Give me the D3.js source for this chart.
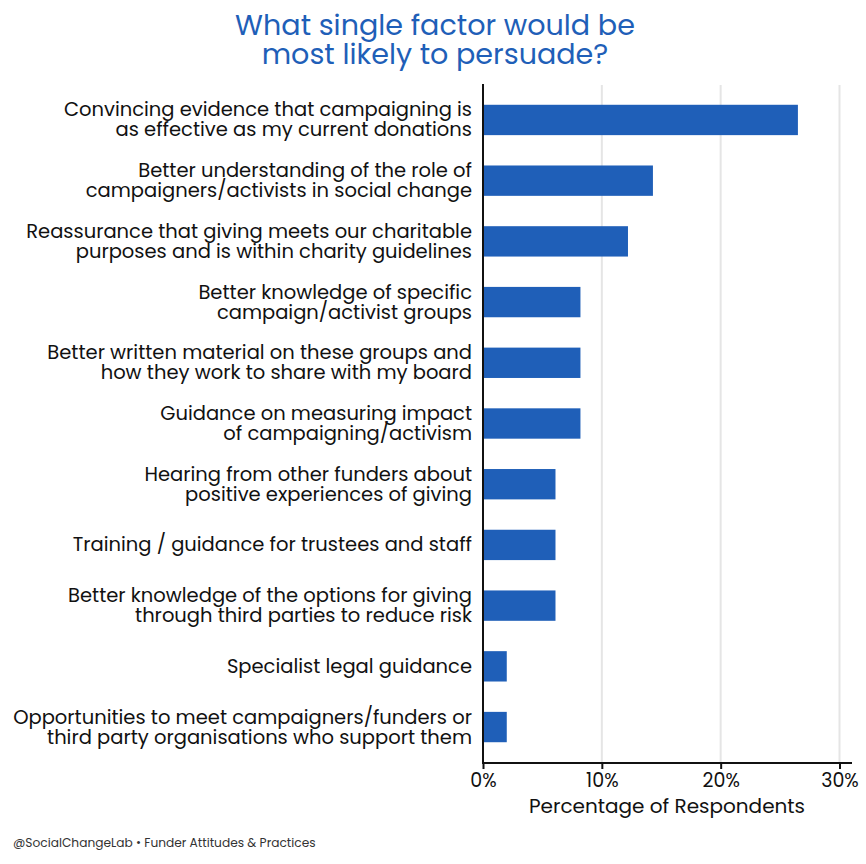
<!DOCTYPE html>
<html>
<head>
<meta charset="utf-8">
<script src="https://cdn.jsdelivr.net/npm/d3@7"></script>
<style>
  body { margin: 0; background: #fff; }
  text { font-family: Poppins, "Open Sans", sans-serif; }
</style>
</head>
<body>
<svg id="chart" width="866" height="864"></svg>
<script>
// factors, top to bottom (two lines each where the label wraps)
const factors = [
  ["Convincing evidence that campaigning is", "as effective as my current donations"],
  ["Better understanding of the role of", "campaigners/activists in social change"],
  ["Reassurance that giving meets our charitable", "purposes and is within charity guidelines"],
  ["Better knowledge of specific", "campaign/activist groups"],
  ["Better written material on these groups and", "how they work to share with my board"],
  ["Guidance on measuring impact", "of campaigning/activism"],
  ["Hearing from other funders about", "positive experiences of giving"],
  ["Training / guidance for trustees and staff"],
  ["Better knowledge of the options for giving", "through third parties to reduce risk"],
  ["Specialist legal guidance"],
  ["Opportunities to meet campaigners/funders or", "third party organisations who support them"]
];
// percentage of respondents
const shares = [26.5, 14.3, 12.2, 8.2, 8.2, 8.2, 6.1, 6.1, 6.1, 2.0, 2.0];
const xTicks = [0, 10, 20, 30];

const blue = "#1f5fb8";
const svg = d3.select("#chart");

const x = d3.scaleLinear().domain([0, 30]).range([483, 839.5]);
const y = d3.scaleBand()
  .domain(d3.range(factors.length))
  .range([89.6, 757.4])
  .paddingInner(0.5)
  .paddingOuter(0.25);

// title
svg.append("text")
  .attr("x", 435).attr("y", 35)
  .attr("text-anchor", "middle")
  .style("font-size", "28.6px")
  .style("fill", blue)
  .selectAll("tspan")
  .data(["What single factor would be", "most likely to persuade?"])
  .join("tspan")
  .attr("x", 435)
  .attr("dy", (d, i) => i ? 29 : 0)
  .text(d => d);

// grid
svg.append("g")
  .selectAll("line")
  .data(xTicks.slice(1))
  .join("line")
  .attr("x1", d => x(d)).attr("x2", d => x(d))
  .attr("y1", 85).attr("y2", 763)
  .attr("stroke", "#e5e5e5")
  .attr("stroke-width", 2);

// bars
svg.append("g")
  .selectAll("rect")
  .data(shares)
  .join("rect")
  .attr("x", x(0))
  .attr("y", (d, i) => y(i))
  .attr("width", d => x(d) - x(0))
  .attr("height", y.bandwidth())
  .attr("fill", blue);

// category labels
const labels = svg.append("g")
  .selectAll("text")
  .data(factors)
  .join("text")
  .attr("text-anchor", "end")
  .style("font-size", "19.5px")
  .style("fill", "#111");

labels.each(function(lines, i) {
  const cy = y(i) + y.bandwidth() / 2;
  const start = cy - (lines.length - 1) * 10 + 6.5;
  d3.select(this).selectAll("tspan")
    .data(lines)
    .join("tspan")
    .attr("x", 472)
    .attr("y", (d, j) => start + j * 20)
    .text(d => d);
});

// x axis
const xAxis = d3.axisBottom(x)
  .tickValues(xTicks)
  .tickFormat(d => d + "%")
  .tickSize(6)
  .tickSizeOuter(0);

const gx = svg.append("g")
  .attr("transform", "translate(0,763)")
  .call(xAxis);
gx.select(".domain").remove();
gx.append("line")
  .attr("x1", x(0) - 1).attr("x2", 852)
  .attr("stroke", "#111").attr("stroke-width", 2);
gx.selectAll(".tick line").attr("stroke", "#111").attr("stroke-width", 2);
gx.selectAll(".tick text")
  .attr("dy", "15px")
  .style("font-size", "19px")
  .style("fill", "#111")
  .style("font-family", 'Poppins, "Open Sans", sans-serif');

// y axis line
svg.append("line")
  .attr("x1", x(0)).attr("x2", x(0))
  .attr("y1", 84).attr("y2", 764)
  .attr("stroke", "#111").attr("stroke-width", 2);

svg.append("text")
  .attr("x", 667).attr("y", 813)
  .attr("text-anchor", "middle")
  .style("font-size", "20px")
  .style("fill", "#111")
  .text("Percentage of Respondents");

// footer
svg.append("text")
  .attr("x", 13).attr("y", 847)
  .style("font-size", "12.2px")
  .style("fill", "#333")
  .text("@SocialChangeLab \u2022 Funder Attitudes & Practices");
</script>
</body>
</html>
